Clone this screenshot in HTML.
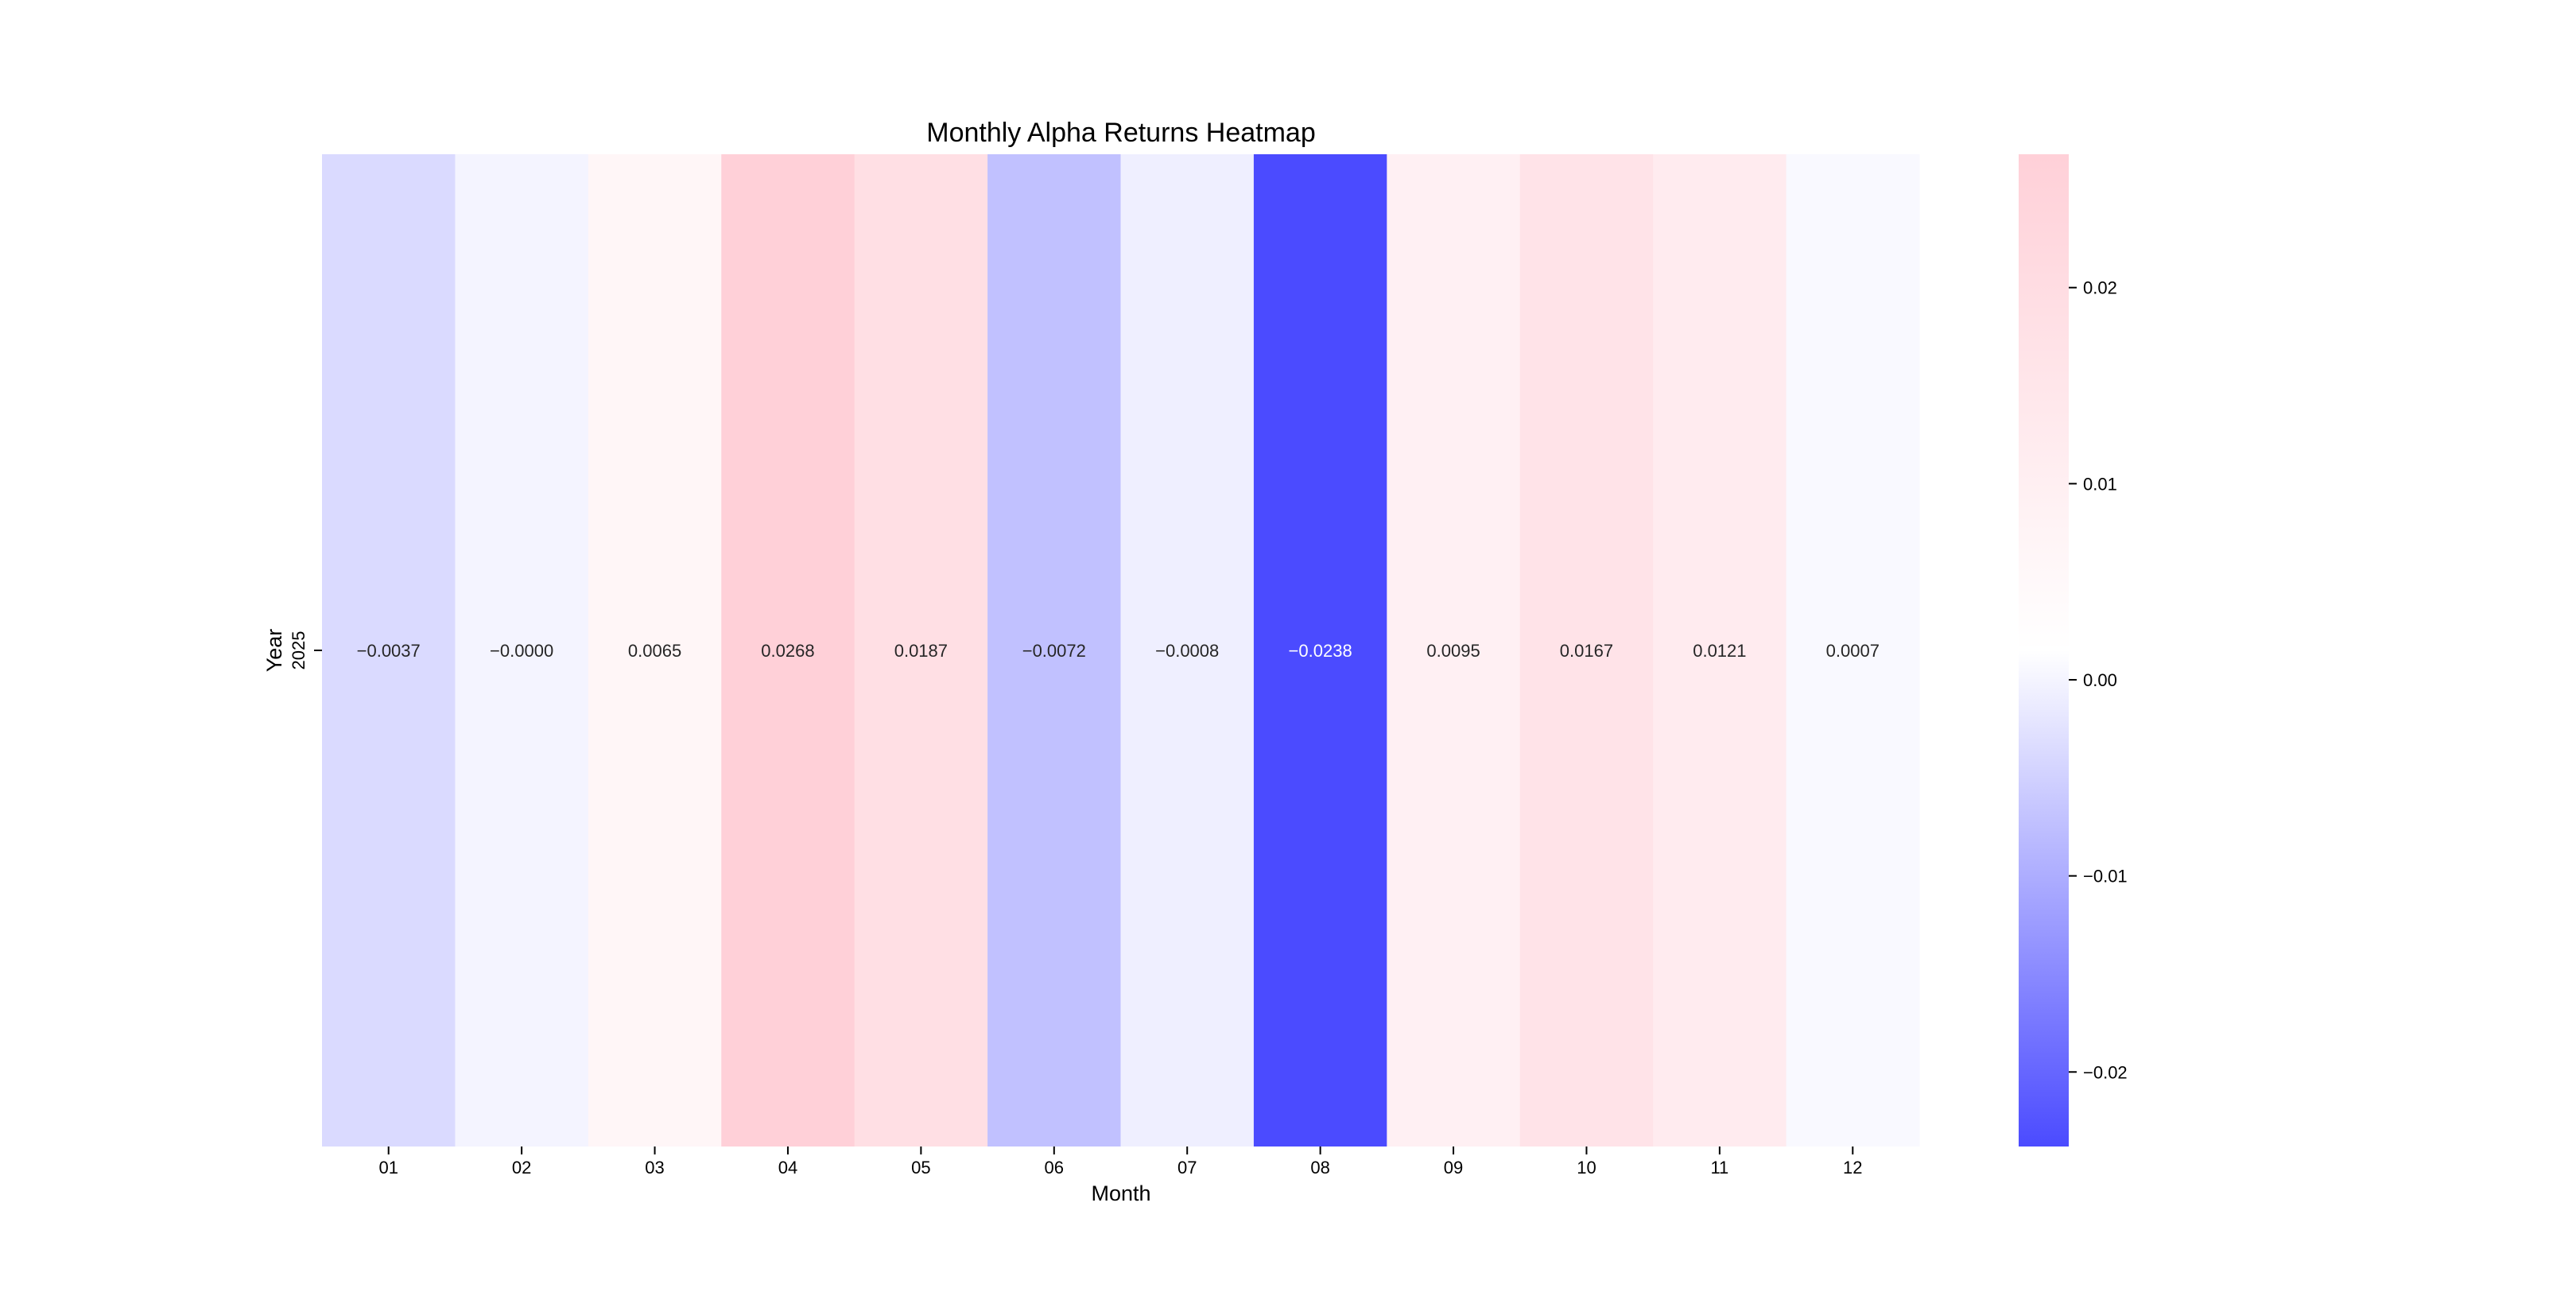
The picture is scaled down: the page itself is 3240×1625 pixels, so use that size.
<!DOCTYPE html>
<html><head><meta charset="utf-8"><style>
body{margin:0;background:#fff}
svg text{font-family:"WenQuanYi Zen Hei","Liberation Sans",sans-serif}
</style></head><body>
<svg id="chart" width="3240" height="1620" viewBox="0 0 3240 1620" xmlns="http://www.w3.org/2000/svg">
<text x="1410" y="178" font-size="34" text-anchor="middle" fill="#000">Monthly Alpha Returns Heatmap</text>
<g id="cells"></g>
<g id="xaxis"></g>
<text x="1410" y="1510" font-size="27" text-anchor="middle" fill="#000">Month</text>
<text transform="translate(354,818) rotate(-90)" font-size="27" text-anchor="middle" fill="#000">Year</text>
<text transform="translate(383,818) rotate(-90)" font-size="22" text-anchor="middle" fill="#000">2025</text>
<line x1="395" x2="405" y1="818" y2="818" stroke="#000" stroke-width="2"/>
<defs><linearGradient id="cbg" x1="0" y1="1" x2="0" y2="0">
<stop id="s0" offset="0"/><stop id="s1" offset="0.5"/><stop id="s2" offset="1"/></linearGradient></defs>
<rect id="cbar" x="2539" y="194" width="63" height="1248" fill="url(#cbg)"/>
<g id="cbticks"></g>
</svg>
<script>
const months = ["01","02","03","04","05","06","07","08","09","10","11","12"];
const values = [-0.0037,-0.0000,0.0065,0.0268,0.0187,-0.0072,-0.0008,-0.0238,0.0095,0.0167,0.0121,0.0007];
const valueLabels = ["-0.0037","-0.0000","0.0065","0.0268","0.0187","-0.0072","-0.0008","-0.0238","0.0095","0.0167","0.0121","0.0007"];
const cbTicks = [0.02,0.01,0.00,-0.01,-0.02];
const cbTickLabels = ["0.02","0.01","0.00","\u22120.01","\u22120.02"];

const NS="http://www.w3.org/2000/svg";
const L=405,R=2414,T=194,B=1442;
const vmin=Math.min(...values), vmax=Math.max(...values);
const mid=(vmin+vmax)/2, half=(vmax-vmin)/2;
const cw=(R-L)/months.length;
function xPos(i){return L+i*cw;}
function color(v){
  const t=Math.min(1,Math.abs(v-mid)/half);
  if(v>=mid){return `rgb(255,${Math.round(255-t*47)},${Math.round(255-t*39)})`;}
  const c=Math.round(255-t*180);return `rgb(${c},${c},255)`;
}
function cbY(v){return T+(vmax-v)/(vmax-vmin)*(B-T);}
function mk(tag,attrs,parent){const e=document.createElementNS(NS,tag);for(const k in attrs)e.setAttribute(k,attrs[k]);parent.appendChild(e);return e;}
const cells=document.getElementById('cells'),xa=document.getElementById('xaxis');
const cy=(T+B)/2;
values.forEach((v,i)=>{
  const r=mk('rect',{x:xPos(i),y:T,width:cw+0.5,height:B-T,fill:color(v)},cells);
  
  
  const t=mk('text',{x:xPos(i)+cw/2,y:cy+8,'font-size':22,'text-anchor':'middle',fill:(v<mid&&Math.abs(v-mid)/half>0.6)?'#fff':'#262626'},cells);
  t.textContent=valueLabels[i].replace('-','\u2212');
  
  
  const tk=mk('line',{x1:xPos(i)+cw/2,x2:xPos(i)+cw/2,y1:B,y2:B+10,stroke:'#000','stroke-width':2},xa);
  
  
  const tl=mk('text',{x:xPos(i)+cw/2,y:B+34,'font-size':22,'text-anchor':'middle',fill:'#000'},xa);
  tl.textContent=months[i];
  
  
});
document.getElementById('s0').setAttribute('stop-color',color(vmin));
document.getElementById('s1').setAttribute('stop-color','#ffffff');
document.getElementById('s2').setAttribute('stop-color',color(vmax));
const cbt=document.getElementById('cbticks');
cbTicks.forEach((v,i)=>{
  const y=cbY(v);
  const l=mk('line',{x1:2602,x2:2612,y1:y,y2:y,stroke:'#000','stroke-width':2},cbt);
  
  
  const t=mk('text',{x:2620,y:y+8,'font-size':22,fill:'#000'},cbt);
  t.textContent=cbTickLabels[i];
  
  
});
</script>
</body></html>
